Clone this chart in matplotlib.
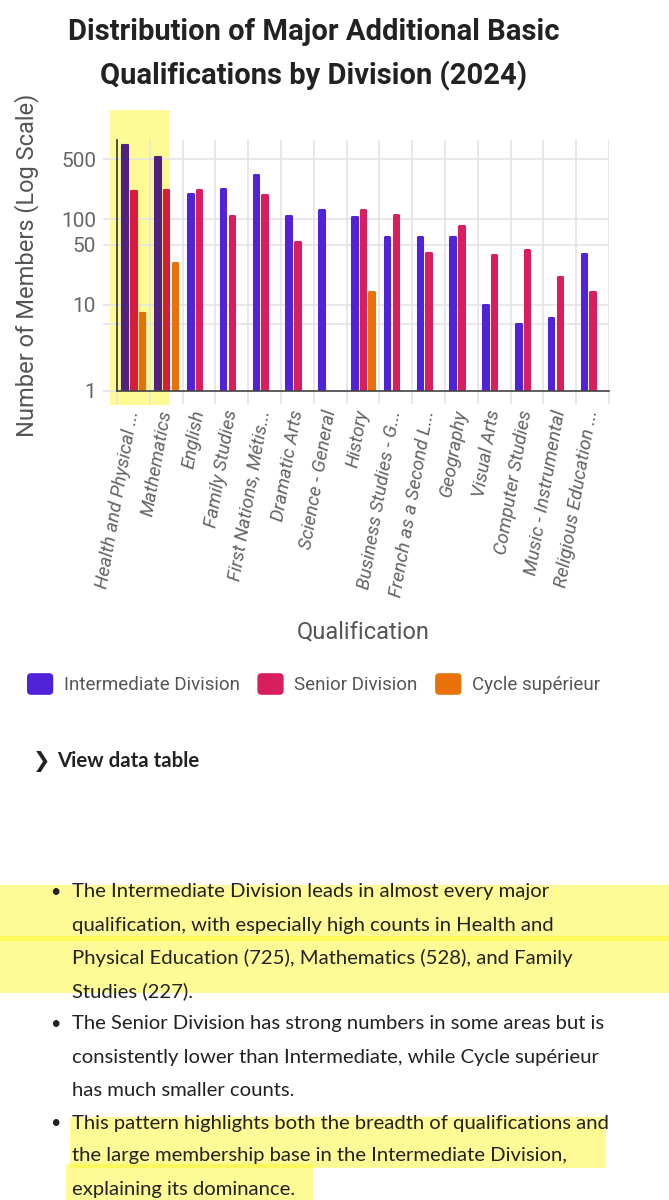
import matplotlib
matplotlib.use("Agg")
import matplotlib.pyplot as plt
import numpy as np
from matplotlib.patches import Rectangle, FancyBboxPatch
from matplotlib.legend_handler import HandlerPatch

# ---------------- data ----------------
categories = ["Health and Physical ...", "Mathematics", "English", "Family Studies",
              "First Nations, Métis...", "Dramatic Arts", "Science - General", "History",
              "Business Studies - G...", "French as a Second L...", "Geography", "Visual Arts",
              "Computer Studies", "Music - Instrumental", "Religious Education ..."]
intermediate = [725, 528, 196, 227, 324, 109, 128, 107, 61, 61, 61, 10, 6, 7, 39]
senior = [214, 218, 218, 109, 190, 54, 0, 128, 112, 40, 82, 38, 44, 21, 14]
cycle = [8, 31, 0, 0, 0, 0, 0, 14, 0, 0, 0, 0, 0, 0, 0]
series_names = ["Intermediate Division", "Senior Division", "Cycle supérieur"]
series_colors = ["#5022D8", "#D81E5F", "#E8710A"]
y_ticks = [1, 6, 10, 50, 100, 500]
y_tick_labels = ["1", "", "10", "50", "100", "500"]

title_lines = ["Distribution of Major Additional Basic",
               "Qualifications by Division (2024)"]
bullets = [
    ["The Intermediate Division leads in almost every major",
     "qualification, with especially high counts in Health and",
     "Physical Education (725), Mathematics (528), and Family",
     "Studies (227)."],
    ["The Senior Division has strong numbers in some areas but is",
     "consistently lower than Intermediate, while Cycle supérieur",
     "has much smaller counts."],
    ["This pattern highlights both the breadth of qualifications and",
     "the large membership base in the Intermediate Division,",
     "explaining its dominance."],
]

# ---------------- figure ----------------
W, H = 669, 1200
fig = plt.figure(figsize=(W / 100, H / 100), dpi=100)
fig.patch.set_facecolor("white")

HL = np.array([254, 251, 150]) / 255.0


def fx(px):
    return px / W


def fy(py):
    return 1 - py / H


def mult(c):
    rgb = np.array(matplotlib.colors.to_rgb(c))
    return tuple(rgb * HL)


ax_l, ax_r, ax_t, ax_b = 117, 609, 140, 390.5
ax = fig.add_axes([fx(ax_l), fy(ax_b), fx(ax_r - ax_l), (ax_b - ax_t) / H])
ax.set_facecolor("none")

# highlight behind the chart (first two categories)
hl_chart = Rectangle((fx(110), fy(405)), fx(60), 295 / H, transform=fig.transFigure,
                     facecolor=HL, edgecolor="none", zorder=-5)
fig.patches.append(hl_chart)

x = np.arange(len(categories))
offsets = [-0.265, 0.0, 0.265]
bw = 0.135
lw = 2.2
data = [intermediate, senior, cycle]
containers = []
for vals, off, col, name in zip(data, offsets, series_colors, series_names):
    bc = ax.bar(x + off, vals, width=bw, color=col, edgecolor=col, linewidth=lw,
                joinstyle="round", label=name, zorder=3)
    containers.append(bc)

# multiply-blended overlay of bars under the highlighter
clip_rect = Rectangle((fx(110), fy(ax_b)), fx(60), (ax_b - 110) / H, transform=fig.transFigure)
for vals, off, col in zip(data, offsets, series_colors):
    mc = mult(col)
    bc = ax.bar(x + off, vals, width=bw, color=mc, edgecolor=mc, linewidth=lw,
                joinstyle="round", zorder=4)
    for p in bc.patches:
        p.set_clip_path(clip_rect)

ax.set_yscale("log")
ax.set_ylim(1, 10 ** ((ax_b - ax_t) / 85.7))
ax.set_xlim(-0.5, len(categories) - 0.5)

ax.set_yticks(y_ticks)
ax.set_yticklabels(y_tick_labels)
ax.yaxis.set_minor_locator(matplotlib.ticker.NullLocator())
ax.tick_params(axis="y", which="major", length=10, width=1.1, color="#e2e2e2",
               pad=5, labelsize=15, labelcolor="#666666")
for t in ax.get_yticklabels():
    t.set_fontfamily("Roboto")

ax.set_xticks(x)
ax.set_xticklabels(categories, rotation=80, ha="right", va="center",
                   rotation_mode="anchor", fontsize=13.6, style="italic",
                   color="#636363", family="Roboto")
ax.set_xticks(np.arange(len(categories) + 1) - 0.5, minor=True)
ax.tick_params(axis="x", which="major", length=0, pad=14)
ax.tick_params(axis="x", which="minor", length=9, width=1.1, color="#e2e2e2")

ax.grid(True, axis="y", which="major", color="#e2e2e2", linewidth=1.1, zorder=0)
ax.grid(True, axis="x", which="minor", color="#e2e2e2", linewidth=1.1, zorder=0)
ax.set_axisbelow(True)

for s in ["top", "right"]:
    ax.spines[s].set_visible(False)
ax.spines["left"].set_color("#333333")
ax.spines["bottom"].set_color("#444444")
ax.spines["left"].set_linewidth(1.2)
ax.spines["bottom"].set_linewidth(1.2)
ax.spines["left"].set_zorder(5)
ax.spines["bottom"].set_zorder(5)

# titles / axis labels
fig.text(fx(314), fy(32), title_lines[0], ha="center", va="center", fontsize=21,
         fontweight="bold", family="Roboto", color="#222222")
fig.text(fx(314), fy(76), title_lines[1], ha="center", va="center", fontsize=21,
         fontweight="bold", family="Roboto", color="#222222")
fig.text(fx(27), fy(265), "Number of Members (Log Scale)", rotation=90, ha="center",
         va="center", fontsize=17, family="Roboto", color="#555555")
fig.text(fx(363), fy(632), "Qualification", ha="center", va="center", fontsize=17,
         family="Roboto", color="#555555")


# legend with rounded squares
class RoundHandler(HandlerPatch):
    def create_artists(self, legend, orig_handle, xdescent, ydescent, width, height,
                       fontsize, trans):
        r = 3
        p = FancyBboxPatch((-xdescent + r, -ydescent + r), width - 2 * r, height - 2 * r,
                           boxstyle=f"round,pad={r}", facecolor=orig_handle.get_facecolor(),
                           edgecolor="none", transform=trans)
        return [p]


handles = [c.patches[0] for c in containers]
leg = fig.legend(handles, series_names, loc="center left",
                 bbox_to_anchor=(fx(27), fy(684)), ncol=3, frameon=False,
                 handler_map={matplotlib.patches.Rectangle: RoundHandler()},
                 handlelength=1.4, handleheight=1.4, handletextpad=0.55,
                 columnspacing=0.95, borderpad=0, borderaxespad=0,
                 prop={"family": "Roboto", "size": 13.5})
for t in leg.get_texts():
    t.set_color("#555555")

# view data table
fig.text(fx(33), fy(761), "❯", ha="left", va="center", fontsize=15,
         family="DejaVu Sans", color="#222222", fontweight="bold")
fig.text(fx(57), fy(761), "View data table", ha="left", va="center", fontsize=14.7,
         family="Lato", fontweight="bold", color="#222222")


# highlighter marks on the commentary
def hl_rect(x0, y0, x1, y1):
    fig.patches.append(Rectangle((fx(x0), fy(y1)), fx(x1 - x0), (y1 - y0) / H,
                                 transform=fig.transFigure,
                                 facecolor=(253 / 255, 246 / 255, 22 / 255),
                                 alpha=0.45, edgecolor="none", zorder=-5))


hl_rect(0, 885, 669, 941)
hl_rect(0, 936, 669, 993)
hl_rect(70, 1117, 606, 1168)
hl_rect(66, 1164, 314, 1200)

line_y = 892
step = 33.0
for b in bullets:
    fig.text(fx(55), fy(line_y), "•", ha="center", va="center", fontsize=13,
             family="Lato", color="#222222")
    for ln in b:
        fig.text(fx(72), fy(line_y), ln, ha="left", va="center", fontsize=14.6,
                 family="Lato", color="#222222")
        line_y += step

fig.savefig("out.png", dpi=100)
